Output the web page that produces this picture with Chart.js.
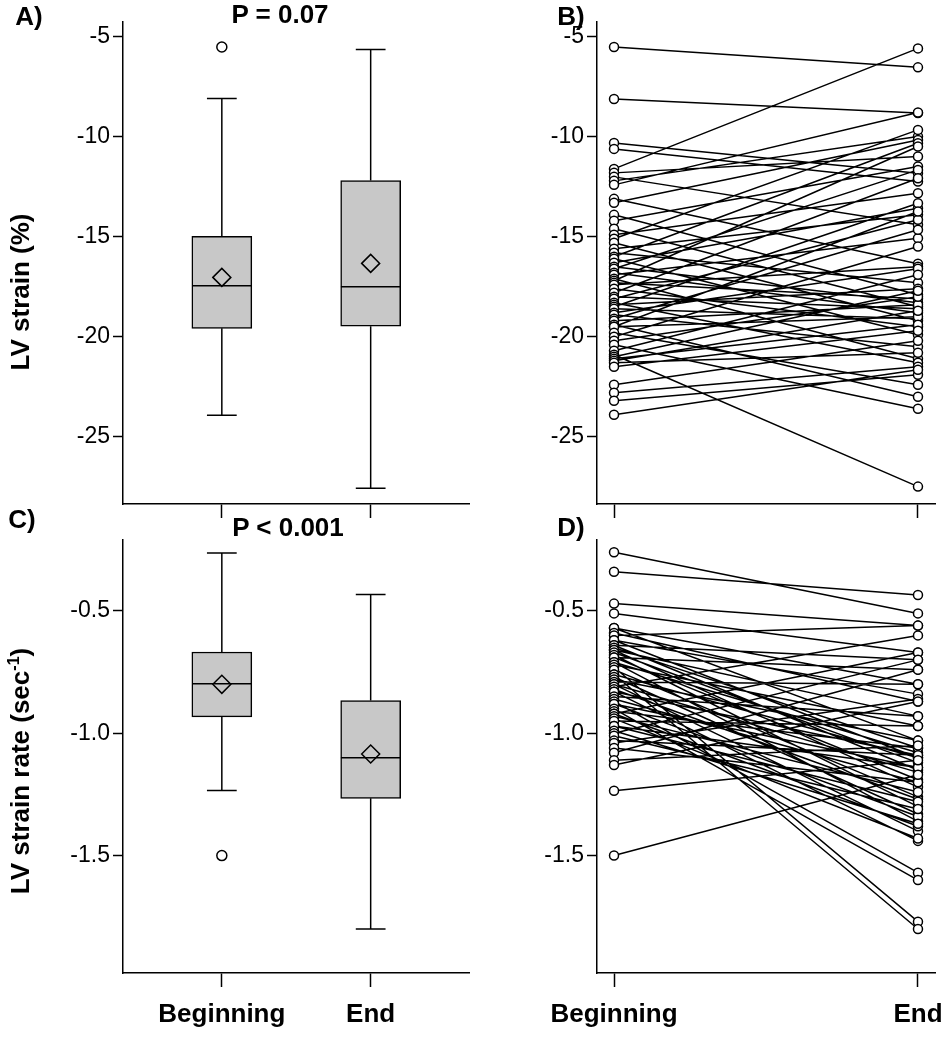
<!DOCTYPE html>
<html><head><meta charset="utf-8">
<script src="https://cdn.jsdelivr.net/npm/chart.js@4.4.1/dist/chart.umd.min.js"></script>
<style>
html,body{margin:0;padding:0;background:#fff;}
body{width:947px;height:1050px;position:relative;overflow:hidden;font-family:"Liberation Sans",Arial,sans-serif;}
canvas{position:absolute;}
.lbl{position:absolute;font-weight:bold;font-size:26px;color:#000;white-space:nowrap;transform:translate(-50%,-50%);line-height:1;}
.ytitle{position:absolute;font-weight:bold;font-size:26px;color:#000;white-space:nowrap;transform:translate(-50%,-50%) rotate(-90deg);line-height:1;}
.ytitle sup{font-size:16px;line-height:0;vertical-align:super;}
</style></head>
<body>
<canvas id="cA" width="480" height="525" style="left:0;top:0"></canvas>
<canvas id="cB" width="467" height="525" style="left:480px;top:0"></canvas>
<canvas id="cC" width="480" height="525" style="left:0;top:525px"></canvas>
<canvas id="cD" width="467" height="525" style="left:480px;top:525px"></canvas>
<div class="lbl" style="left:29px;top:16px">A)</div>
<div class="lbl" style="left:280px;top:14px">P = 0.07</div>
<div class="lbl" style="left:571px;top:16px">B)</div>
<div class="lbl" style="left:22px;top:519px">C)</div>
<div class="lbl" style="left:288px;top:527px">P &lt; 0.001</div>
<div class="lbl" style="left:571px;top:527px">D)</div>
<div class="ytitle" style="left:20px;top:292px">LV strain (%)</div>
<div class="ytitle" style="left:20px;top:771px">LV strain rate (sec<sup>-1</sup>)</div>
<script>
// ---------- data ----------
const categories = ["Beginning", "End"];
const strainTicks = [-5, -10, -15, -20, -25];
const rateTicks = [-0.5, -1.0, -1.5];

const strainQ1 = [-19.58, -19.47];
const strainMedian = [-17.45, -17.5];
const strainQ3 = [-14.97, -12.18];
const strainWhiskerLow = [-23.93, -27.58];
const strainWhiskerHigh = [-8.08, -5.63];
const strainMean = [-17.03, -16.33];
const strainOutliers = [[-5.5], []];

const rateQ1 = [-0.933, -1.266];
const rateMedian = [-0.798, -1.10];
const rateQ3 = [-0.668, -0.866];
const rateWhiskerLow = [-1.234, -1.80];
const rateWhiskerHigh = [-0.263, -0.433];
const rateMean = [-0.80, -1.085];
const rateOutliers = [[-1.5], []];

// paired individual values (panels B and D)
const strainBegin = [-5.5,-8.1,-10.3,-10.6,-11.6,-11.8,-12.0,-12.2,-12.4,-13.1,-13.3,-13.9,-14.2,-14.6,-14.9,-15.1,-15.3,-15.6,-15.8,-16.0,-16.1,-16.3,-16.5,-16.6,-16.8,-16.9,-17.1,-17.2,-17.3,-17.4,-17.6,-17.8,-18.0,-18.1,-18.3,-18.4,-18.5,-18.6,-18.8,-18.9,-19.1,-19.2,-19.4,-19.5,-19.5,-19.8,-20.0,-20.2,-20.4,-20.7,-20.9,-21.0,-21.1,-21.2,-21.3,-21.5,-22.4,-22.8,-23.2,-23.9];
const strainEnd = [-6.52,-8.8,-11.82,-12.23,-5.57,-10.98,-14.4,-9.98,-8.78,-16.35,-10.15,-17.9,-11.48,-18.5,-12.82,-9.65,-19.2,-13.9,-17.3,-10.32,-19.9,-13.57,-18.3,-11.65,-18.8,-15.07,-21.1,-10.48,-18.1,-16.5,-19.5,-12.07,-18.6,-14.15,-21.3,-17.6,-13.32,-19.1,-16.6,-20.5,-14.65,-18.4,-23.0,-13.73,-19.0,-22.4,-15.48,-18.0,-23.6,-16.9,-27.5,-17.7,-19.4,-18.7,-20.8,-19.7,-20.2,-21.5,-21.9,-21.65];
const rateBegin = [-0.26,-0.34,-0.47,-0.51,-0.57,-0.57,-0.59,-0.60,-0.62,-0.62,-0.64,-0.64,-0.65,-0.66,-0.66,-0.67,-0.68,-0.69,-0.69,-0.71,-0.71,-0.72,-0.73,-0.74,-0.76,-0.76,-0.77,-0.78,-0.79,-0.80,-0.80,-0.81,-0.82,-0.83,-0.83,-0.85,-0.86,-0.87,-0.88,-0.88,-0.90,-0.91,-0.92,-0.92,-0.93,-0.94,-0.95,-0.97,-0.97,-0.99,-1.00,-1.01,-1.03,-1.04,-1.06,-1.08,-1.11,-1.13,-1.235,-1.50];
const rateEnd = [-0.51,-0.435,-0.56,-0.67,-0.80,-1.03,-0.87,-0.56,-1.10,-0.84,-1.15,-0.70,-1.06,-1.22,-0.93,-1.12,-1.30,-0.74,-1.19,-1.08,-1.36,-0.97,-1.77,-1.26,-1.80,-1.10,-1.33,-1.03,-0.80,-1.16,-1.40,-0.60,-1.27,-1.09,-1.44,-0.93,-1.20,-1.57,-1.14,-1.34,-1.60,-1.06,-1.38,-0.67,-1.24,-1.43,-0.97,-1.28,-1.14,-1.37,-0.70,-1.31,-1.09,-0.86,-1.20,-0.74,-1.05,-0.87,-1.11,-1.17];

// ---------- styling helpers ----------
Chart.defaults.font.family = '"Liberation Sans", Arial, sans-serif';
Chart.defaults.color = '#000';
const BOX_HALF = 0.2, CAP_HALF = 0.1;
const LW = 1.5;

function yScale(min, max, ticks, fmt, width) {
  return {
    type: 'linear', min: min, max: max,
    afterBuildTicks: s => { s.ticks = ticks.map(v => ({ value: v })); },
    afterFit: s => { s.width = width; s.paddingTop = 0; s.paddingBottom = 0; },
    ticks: { font: { size: 23 }, color: '#000', padding: 3, callback: v => fmt(v) },
    grid: { display: true, offset: false, drawOnChartArea: false, drawTicks: true, tickLength: 10, tickColor: '#000', tickWidth: LW },
    border: { display: true, color: '#000', width: LW }
  };
}
function xScale(min, max, positions, showLabels, height) {
  return {
    type: 'linear', min: min, max: max, offset: false,
    afterBuildTicks: s => { s.ticks = positions.map(v => ({ value: v })); },
    afterFit: s => { s.height = height; s.paddingLeft = 0; s.paddingRight = 0; },
    ticks: { autoSkip: false, maxRotation: 0, font: { size: 26, weight: 'bold' }, color: '#000', padding: 12,
      callback: (v, i) => showLabels ? categories[i] : '' },
    grid: { display: true, offset: false, drawOnChartArea: false, drawTicks: true, tickLength: 14, tickColor: '#000', tickWidth: LW },
    border: { display: true, color: '#000', width: LW }
  };
}
const commonOpts = {
  responsive: false, animation: false, events: [],
  plugins: { legend: { display: false }, tooltip: { enabled: false } }
};

function boxChart(id, q1, med, q3, wl, wh, mean, outl, yMin, yMax, ticks, fmt, showLabels, padTop, xH) {
  const xs = [1, 2];
  const segs = [];
  xs.forEach((x, i) => {
    segs.push({ x: x, y: q3[i] }, { x: x, y: wh[i] }, { x: x, y: null });
    segs.push({ x: x, y: q1[i] }, { x: x, y: wl[i] }, { x: x, y: null });
    segs.push({ x: x - CAP_HALF, y: wh[i] }, { x: x + CAP_HALF, y: wh[i] }, { x: x, y: null });
    segs.push({ x: x - CAP_HALF, y: wl[i] }, { x: x + CAP_HALF, y: wl[i] }, { x: x, y: null });
    segs.push({ x: x - BOX_HALF, y: med[i] }, { x: x + BOX_HALF, y: med[i] }, { x: x, y: null });
  });
  const outPts = [];
  xs.forEach((x, i) => outl[i].forEach(v => outPts.push({ x: x, y: v })));
  new Chart(document.getElementById(id), {
    type: 'bar',
    data: { datasets: [
      { type: 'bar', data: xs.map((x, i) => ({ x: x, y: [q1[i], q3[i]] })), backgroundColor: '#c8c8c8',
        borderColor: '#000', borderWidth: LW, borderSkipped: false, barThickness: 60, order: 5 },
      { type: 'line', data: segs, borderColor: '#000', borderWidth: LW, pointRadius: 0, spanGaps: false, fill: false, order: 3 },
      { type: 'line', data: xs.map((x, i) => ({ x: x, y: mean[i] })), showLine: false, pointStyle: 'rectRot',
        pointRadius: 9, pointBorderWidth: LW, pointBorderColor: '#000', pointBackgroundColor: 'rgba(0,0,0,0)', order: 1 },
      { type: 'line', data: outPts, showLine: false, pointStyle: 'circle', pointRadius: 5, pointBorderWidth: LW,
        pointBorderColor: '#000', pointBackgroundColor: '#fff', order: 1 }
    ] },
    options: Object.assign({}, commonOpts, {
      layout: { padding: { top: padTop, right: 10, left: 0, bottom: 0 } },
      scales: { x: xScale(0.336, 2.664, xs, showLabels, xH), y: yScale(yMin, yMax, ticks, fmt, 123) }
    })
  });
}

function pairChart(id, begin, end, yMin, yMax, ticks, fmt, showLabels, padTop, xH) {
  const pts = [];
  begin.forEach((b, i) => { pts.push({ x: 0, y: b }, { x: 1, y: end[i] }, { x: 0.5, y: null }); });
  new Chart(document.getElementById(id), {
    type: 'line',
    data: { datasets: [{ data: pts, borderColor: '#000', borderWidth: LW, spanGaps: false, fill: false,
      pointStyle: 'circle', pointRadius: 4.5, pointBorderWidth: LW, pointBorderColor: '#000', pointBackgroundColor: '#fff' }] },
    options: Object.assign({}, commonOpts, {
      layout: { padding: { top: padTop, right: 12, left: 0, bottom: 0 } },
      scales: { x: xScale(-0.056, 1.056, [0, 1], showLabels, xH), y: yScale(yMin, yMax, ticks, fmt, 117) }
    })
  });
}

const fmtInt = v => String(v);
const fmt1 = v => v.toFixed(1);
boxChart('cA', strainQ1, strainMedian, strainQ3, strainWhiskerLow, strainWhiskerHigh, strainMean, strainOutliers,
  -28.37, -4.25, strainTicks, fmtInt, false, 22, 21);
pairChart('cB', strainBegin, strainEnd, -28.37, -4.25, strainTicks, fmtInt, false, 22, 21);
boxChart('cC', rateQ1, rateMedian, rateQ3, rateWhiskerLow, rateWhiskerHigh, rateMean, rateOutliers,
  -1.98, -0.21, rateTicks, fmt1, true, 15, 77);
pairChart('cD', rateBegin, rateEnd, -1.98, -0.21, rateTicks, fmt1, true, 15, 77);
</script>
</body></html>
